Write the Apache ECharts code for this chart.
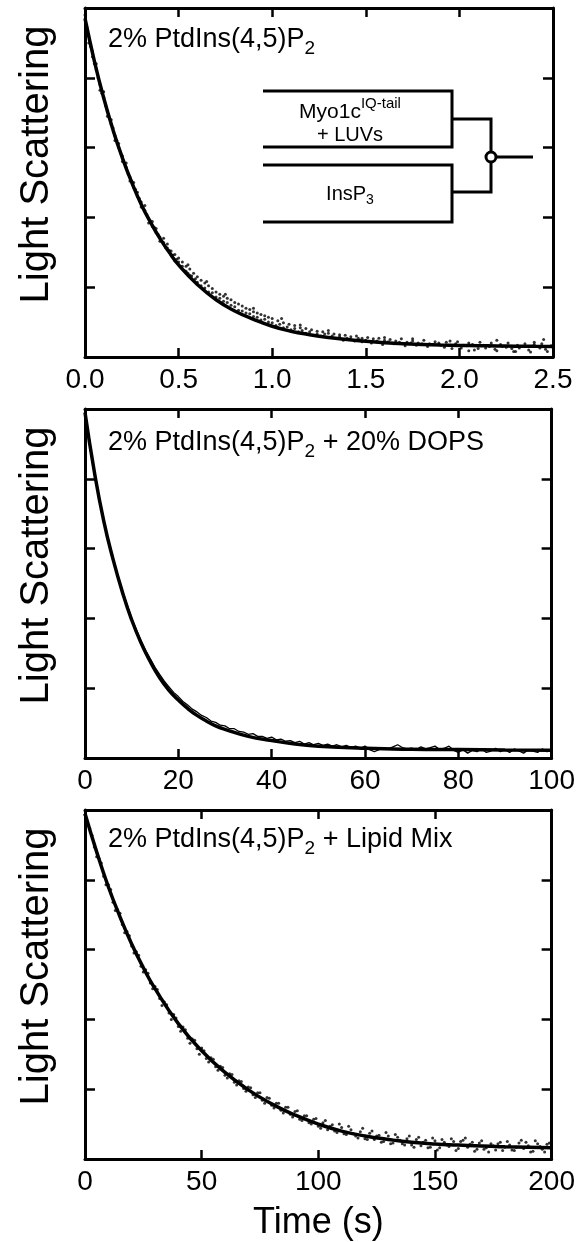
<!DOCTYPE html>
<html><head><meta charset="utf-8">
<script src="https://cdn.jsdelivr.net/npm/echarts@6/dist/echarts.min.js"></script>
<style>html,body{margin:0;padding:0;background:#fff}#c{width:578px;height:1242px}</style>
</head><body><div id="c"></div>
<script>
const FONT = '"Liberation Sans", Arial, Helvetica, sans-serif';

// ---------- axis setup ----------
const xMax = [2.5, 100, 200];
const xInterval = [0.5, 20, 50];
const xTickLabels1 = ['0.0', '0.5', '1.0', '1.5', '2.0', '2.5'];
const xTickLabels2 = ['0', '20', '40', '60', '80', '100'];
const xTickLabels3 = ['0', '50', '100', '150', '200'];
const yMax = 5;
const yInterval = 1;
const yTitle = 'Light Scattering';
const xTitle = 'Time (s)';

// ---------- panel 1: 2% PtdIns(4,5)P2 ----------
const p1FitT = [0,0.05,0.1,0.15,0.2,0.25,0.3,0.35,0.4,0.45,0.5,0.6,0.7,0.8,0.9,1.0,1.1,1.2,1.3,1.4,1.5,1.6,1.7,1.8,1.9,2.0,2.1,2.2,2.3,2.4,2.5];
const p1FitV = [4.85,4.24,3.71,3.25,2.85,2.50,2.19,1.93,1.70,1.50,1.32,1.04,0.82,0.66,0.54,0.44,0.37,0.32,0.28,0.25,0.225,0.205,0.19,0.18,0.172,0.166,0.162,0.158,0.155,0.153,0.152];
const p1Points = [
[0,4.9],[0.01,4.72],[0.02,4.6],[0.03,4.45],[0.04,4.38],[0.05,4.2],[0.06,4.12],[0.07,4.0],[0.08,3.9],[0.09,3.78],
[0.1,3.72],[0.11,3.6],[0.12,3.52],[0.13,3.43],[0.14,3.33],[0.15,3.28],[0.16,3.17],[0.17,3.1],[0.18,3.0],[0.19,2.93],
[0.2,2.88],[0.21,2.78],[0.22,2.72],[0.23,2.62],[0.24,2.58],[0.25,2.52],[0.26,2.43],[0.27,2.4],[0.28,2.3],[0.29,2.27],
[0.3,2.22],[0.31,2.13],[0.32,2.1],[0.33,2.04],[0.34,1.98],[0.35,1.95],[0.36,1.87],[0.37,1.86],[0.38,1.78],[0.39,1.76],
[0.4,1.72],[0.41,1.66],[0.42,1.64],[0.43,1.57],[0.44,1.56],[0.45,1.53],[0.46,1.46],[0.47,1.46],[0.48,1.38],[0.49,1.4],
[0.5,1.36],[0.51,1.3],[0.52,1.3],[0.53,1.24],[0.54,1.23],[0.55,1.2],[0.56,1.17],[0.57,1.16],[0.58,1.1],[0.59,1.12],
[0.6,1.07],[0.62,1.02],[0.64,0.99],[0.66,0.93],[0.68,0.92],[0.7,0.86],[0.72,0.84],[0.74,0.8],[0.76,0.78],[0.78,0.74],
[0.8,0.72],[0.82,0.67],[0.84,0.66],[0.86,0.63],[0.88,0.62],[0.9,0.58],[0.92,0.57],[0.94,0.53],[0.96,0.54],[0.98,0.5],
[1.0,0.49],[1.02,0.45],[1.04,0.47],[1.06,0.42],[1.08,0.43],[1.1,0.39],[1.12,0.41],[1.14,0.36],[1.16,0.38],[1.18,0.34],
[1.2,0.36],[1.22,0.31],[1.24,0.33],[1.26,0.3],[1.28,0.33],[1.3,0.28],[1.32,0.3],[1.34,0.27],[1.36,0.29],[1.38,0.24],
[1.4,0.27],[1.42,0.25],[1.44,0.23],[1.46,0.27],[1.48,0.22],[1.5,0.24],[1.53,0.2],[1.56,0.23],[1.59,0.18],[1.62,0.22],
[1.65,0.19],[1.68,0.21],[1.71,0.16],[1.74,0.2],[1.77,0.17],[1.8,0.19],[1.83,0.15],[1.86,0.18],[1.89,0.2],[1.92,0.14],
[1.95,0.17],[1.98,0.19],[2.01,0.13],[2.04,0.16],[2.07,0.18],[2.1,0.12],[2.13,0.17],[2.16,0.15],[2.19,0.11],[2.22,0.18],
[2.25,0.14],[2.28,0.12],[2.31,0.17],[2.34,0.15],[2.37,0.1],[2.4,0.18],[2.43,0.13],[2.46,0.11],[2.49,0.16],
[0.75,0.9],[0.9,0.7],[1.05,0.55],[1.3,0.38],[1.6,0.28],[2.2,0.24],[2.45,0.25],[0.55,1.32],[0.65,1.08],[1.15,0.46],
[1.75,0.26],[1.95,0.23],[2.3,0.08],[2.05,0.09],[2.4,0.21],
[0.02,4.5],[0.04,4.3],[0.06,4.2],[0.08,3.82],[0.1,3.8],[0.12,3.45],[0.14,3.4],[0.16,3.1],[0.18,3.06],[0.2,2.8],
[0.22,2.78],[0.24,2.52],[0.26,2.5],[0.28,2.36],[0.3,2.15],[0.32,2.17],[0.34,1.92],[0.36,1.94],[0.38,1.84],[0.4,1.66],
[0.42,1.7],[0.44,1.62],[0.46,1.52],[0.48,1.47],[0.5,1.42],[0.52,1.36],[0.54,1.3],[0.56,1.26],[0.58,1.2],[0.6,1.15],
[0.62,1.1],[0.64,1.06],[0.66,1.02],[0.68,0.98],[0.7,0.93],[0.72,0.9],[0.74,0.87],[0.76,0.84],[0.78,0.82],[0.8,0.78],
[0.82,0.76],[0.84,0.73],[0.86,0.7],[0.88,0.68],[0.9,0.65],[0.92,0.63],[0.94,0.61],[0.96,0.59],[0.98,0.57],[1.0,0.55],
[1.03,0.52],[1.06,0.49],[1.09,0.47],[1.12,0.45],[1.15,0.42],[1.18,0.41],[1.21,0.39],[1.24,0.37],[1.27,0.36],[1.3,0.34],
[1.33,0.33],[1.36,0.32],[1.39,0.31],[1.42,0.29],[1.45,0.3],[1.48,0.27],[1.51,0.28],[1.54,0.26],[1.57,0.27],[1.6,0.24],
[1.63,0.25],[1.66,0.23],[1.69,0.26],[1.72,0.21],[1.75,0.23],[1.78,0.2],[1.81,0.24],[1.84,0.19],[1.87,0.22],[1.9,0.17],
[1.93,0.21],[1.96,0.12],[1.99,0.22],[2.02,0.17],[2.05,0.2],[2.08,0.1],[2.11,0.21],[2.14,0.13],[2.17,0.2],[2.2,0.09],
[2.23,0.15],[2.26,0.2],[2.29,0.08],[2.32,0.13],[2.35,0.19],[2.38,0.07],[2.41,0.15],[2.44,0.19],[2.47,0.08],[2.5,0.14]
];

// ---------- panel 2: 2% PtdIns(4,5)P2 + 20% DOPS ----------
const p2FitT = [0,2,4,6,8,10,12,14,16,18,20,22,24,26,28,30,35,40,45,50,60,70,80,90,100];
const p2FitV = [4.95,4.1,3.4,2.85,2.38,1.98,1.65,1.38,1.15,0.97,0.83,0.71,0.61,0.53,0.46,0.41,0.31,0.25,0.2,0.17,0.14,0.125,0.12,0.115,0.11];
const p2DataT = [0,1,2,3,4,5,6,7,8,9,10,11,12,13,14,15,16,17,18,19,20,21,22,23,24,25,26,27,28,29,30,31,32,33,34,35,36,37,38,39,40,41,42,43,44,45,46,47,48,49,50,51,52,53,54,55,56,57,58,59,60,61,62,63,64,65,66,67,68,69,70,71,72,73,74,75,76,77,78,79,80,81,82,83,84,85,86,87,88,89,90,91,92,93,94,95,96,97,98,99,100];
const p2DataV = [4.93,4.55,4.1,3.76,3.42,3.13,2.87,2.62,2.4,2.2,2.0,1.84,1.68,1.54,1.42,1.3,1.2,1.1,1.02,0.94,
0.88,0.81,0.76,0.7,0.66,0.61,0.58,0.53,0.51,0.47,0.46,0.42,0.42,0.38,0.37,0.34,0.35,0.31,0.31,0.28,
0.3,0.26,0.27,0.24,0.25,0.22,0.24,0.2,0.22,0.19,0.21,0.18,0.2,0.17,0.19,0.16,0.18,0.15,0.17,0.14,
0.17,0.12,0.09,0.12,0.15,0.13,0.16,0.19,0.15,0.13,0.14,0.12,0.16,0.13,0.15,0.17,0.12,0.14,0.17,0.11,
0.08,0.12,0.07,0.11,0.09,0.13,0.08,0.1,0.14,0.09,0.12,0.08,0.13,0.1,0.07,0.12,0.1,0.08,0.13,0.09,0.11];

// ---------- panel 3: 2% PtdIns(4,5)P2 + Lipid Mix ----------
const p3FitT = [0,5,10,15,20,25,30,40,50,60,70,80,90,100,110,120,130,140,150,160,170,180,190,200];
const p3FitV = [4.95,4.4,3.9,3.47,3.08,2.74,2.44,1.94,1.55,1.24,0.99,0.79,0.63,0.5,0.4,0.33,0.28,0.24,0.215,0.2,0.185,0.175,0.168,0.162];
const p3Points = [
[0,4.93],[2,4.74],[4,4.47],[6,4.31],[8,4.05],[10,3.93],[12,3.68],[14,3.57],[16,3.36],[18,3.26],
[20,3.05],[22,2.97],[24,2.76],[26,2.71],[28,2.52],[30,2.47],[32,2.3],[34,2.25],[36,2.09],[38,2.07],
[40,1.9],[42,1.89],[44,1.73],[46,1.72],[48,1.58],[50,1.59],[52,1.44],[54,1.45],[56,1.32],[58,1.33],
[60,1.2],[62,1.22],[64,1.1],[66,1.12],[68,1.01],[70,1.03],[72,0.92],[74,0.95],[76,0.84],[78,0.88],
[80,0.77],[82,0.8],[84,0.7],[86,0.74],[88,0.64],[90,0.68],[92,0.57],[94,0.62],[96,0.52],[98,0.57],
[100,0.47],[102,0.52],[104,0.42],[106,0.49],[108,0.38],[110,0.45],[112,0.35],[114,0.42],[116,0.33],[118,0.39],
[120,0.29],[122,0.37],[124,0.28],[126,0.34],[128,0.25],[130,0.33],[132,0.23],[134,0.31],[136,0.22],[138,0.29],
[140,0.2],[142,0.28],[144,0.19],[146,0.27],[148,0.17],[150,0.26],[152,0.16],[154,0.24],[156,0.18],[158,0.25],
[160,0.15],[162,0.27],[164,0.17],[166,0.24],[168,0.14],[170,0.26],[172,0.16],[174,0.22],[176,0.13],[178,0.24],
[180,0.17],[182,0.2],[184,0.12],[186,0.23],[188,0.15],[190,0.19],[192,0.11],[194,0.22],[196,0.14],[198,0.21],[200,0.13],
[105,0.47],[115,0.36],[125,0.33],[135,0.27],[145,0.24],[155,0.2],[165,0.21],[175,0.19],[185,0.17],[195,0.18],
[157,0.29],[163,0.3],[171,0.14],[187,0.27],[193,0.26],[197,0.1],
[1,4.8],[3,4.64],[5,4.33],[7,4.24],[9,3.93],[11,3.86],[13,3.56],[15,3.52],[17,3.24],[19,3.2],
[21,2.95],[23,2.92],[25,2.68],[27,2.66],[29,2.44],[31,2.43],[33,2.2],[35,2.21],[37,2.0],[39,2.02],
[41,1.83],[43,1.85],[45,1.66],[47,1.7],[49,1.5],[51,1.55],[53,1.39],[55,1.43],[57,1.27],[59,1.31],
[61,1.16],[63,1.21],[65,1.06],[67,1.11],[69,0.97],[71,1.02],[73,0.88],[75,0.95],[77,0.8],[79,0.87],
[81,0.73],[83,0.8],[85,0.66],[87,0.74],[89,0.6],[91,0.69],[93,0.55],[95,0.62],[97,0.5],[99,0.58],
[101,0.44],[103,0.55],[107,0.4],[109,0.5],[111,0.36],[113,0.47],[117,0.3],[119,0.44],[121,0.28],[123,0.4],
[127,0.24],[129,0.38],[131,0.22],[133,0.35],[137,0.2],[139,0.33],[141,0.17],[143,0.31],[147,0.16],[149,0.3],
[151,0.13],[153,0.28],[159,0.12],[161,0.25],[167,0.11],[169,0.23],[173,0.1],[177,0.22],[179,0.12],[181,0.25],
[183,0.13],[189,0.24],[191,0.1],[199,0.23]
];

// ---------- annotation texts ----------
const panelTitles = [
  [{t:'2% PtdIns(4,5)P'},{t:'2',sub:true}],
  [{t:'2% PtdIns(4,5)P'},{t:'2',sub:true},{t:' + 20% DOPS'}],
  [{t:'2% PtdIns(4,5)P'},{t:'2',sub:true},{t:' + Lipid Mix'}]
];
const insetTop = [{t:'Myo1c'},{t:'IQ-tail',sup:true}];
const insetMid = [{t:'+ LUVs'}];
const insetBot = [{t:'InsP'},{t:'3',sub:true}];

// ---------- layout ----------
const G = [
  {left:85, top:8, width:468, height:349},
  {left:85, top:409, width:468, height:349},
  {left:85, top:810, width:468, height:349}
];
const tickLabelSets = [xTickLabels1, xTickLabels2, xTickLabels3];

const measureCtx = document.createElement('canvas').getContext('2d');
function textWidth(s, size){ measureCtx.font = size + 'px ' + FONT; return measureCtx.measureText(s).width; }
function richLine(segs, x, cy, size, align){
  const small = Math.round(size*0.7);
  const widths = segs.map(s => textWidth(s.t, (s.sub||s.sup)?small:size));
  const total = widths.reduce((a,b)=>a+b,0);
  let cx = align === 'center' ? x - total/2 : x;
  const els = [];
  segs.forEach((s,i)=>{
    const fs = (s.sub||s.sup)?small:size;
    const yy = s.sub ? cy + size*0.33 : (s.sup ? cy - size*0.38 : cy);
    els.push({type:'text', silent:true, style:{text:s.t, x:cx, y:yy, font: fs+'px '+FONT, fill:'#000', textAlign:'left', textVerticalAlign:'middle'}});
    cx += widths[i];
  });
  return els;
}

const xAxes = [], yAxes = [], series = [];
for (let i=0;i<3;i++){
  const labels = tickLabelSets[i];
  const common = {
    gridIndex:i, type:'value', min:0, max:xMax[i], interval:xInterval[i],
    axisLine:{show:true, onZero:false, lineStyle:{color:'#000', width:3}},
    axisTick:{show:true, inside:true, length:9, lineStyle:{color:'#000', width:2.5}},
    splitLine:{show:false}
  };
  xAxes.push(Object.assign({}, common, {
    position:'bottom',
    axisLabel:{show:true, color:'#000', fontSize:28, fontFamily:FONT, margin:9, showMinLabel:true, showMaxLabel:true,
      formatter:(v)=>labels[Math.round(v/xInterval[i])]},
    name: i===2 ? xTitle : '', nameLocation:'middle', nameGap:46,
    nameTextStyle:{color:'#000', fontSize:36, fontFamily:FONT}
  }));
  xAxes.push(Object.assign({}, common, {position:'top', axisLabel:{show:false}}));
  const ycommon = {
    gridIndex:i, type:'value', min:0, max:yMax, interval:yInterval,
    axisLine:{show:true, onZero:false, lineStyle:{color:'#000', width:3}},
    axisTick:{show:true, inside:true, length:10, lineStyle:{color:'#000', width:2.5}},
    axisLabel:{show:false}, splitLine:{show:false}
  };
  yAxes.push(Object.assign({}, ycommon, {position:'left', name:yTitle, nameLocation:'middle', nameGap:28, nameRotate:90,
    nameTextStyle:{color:'#000', fontSize:40, fontFamily:FONT, padding:[0,0,0,36]}}));
  yAxes.push(Object.assign({}, ycommon, {position:'right'}));
}

// panel 1
series.push({type:'scatter', xAxisIndex:0, yAxisIndex:0, data:p1Points, symbolSize:3, itemStyle:{color:'#000'}, silent:true, z:2});
series.push({type:'line', xAxisIndex:0, yAxisIndex:0, data:p1FitT.map((t,k)=>[t,p1FitV[k]]), smooth:true, showSymbol:false, lineStyle:{color:'#000', width:3.5}, silent:true, z:3});
// panel 2
series.push({type:'line', xAxisIndex:2, yAxisIndex:2, data:p2DataT.map((t,k)=>[t,p2DataV[k]]), showSymbol:false, lineStyle:{color:'#000', width:1.3}, silent:true, z:2});
series.push({type:'line', xAxisIndex:2, yAxisIndex:2, data:p2FitT.map((t,k)=>[t,p2FitV[k]]), smooth:true, showSymbol:false, lineStyle:{color:'#000', width:3.5}, silent:true, z:3});
// panel 3
series.push({type:'scatter', xAxisIndex:4, yAxisIndex:4, data:p3Points, symbolSize:3, itemStyle:{color:'#000'}, silent:true, z:2});
series.push({type:'line', xAxisIndex:4, yAxisIndex:4, data:p3FitT.map((t,k)=>[t,p3FitV[k]]), smooth:true, showSymbol:false, lineStyle:{color:'#000', width:3.5}, silent:true, z:3});

// graphics: titles + inset schematic
let graphics = [];
const titleCY = [40, 443, 840];
for (let i=0;i<3;i++) graphics = graphics.concat(richLine(panelTitles[i], 108, titleCY[i], 27, 'left'));
const LS = {stroke:'#000', lineWidth:3, fill:null};
graphics.push({type:'polyline', silent:true, shape:{points:[[263,91],[452,91],[452,147],[263,147]]}, style:LS});
graphics.push({type:'polyline', silent:true, shape:{points:[[263,165],[452,165],[452,222],[263,222]]}, style:LS});
graphics.push({type:'polyline', silent:true, shape:{points:[[452,119],[491,119],[491,192],[452,192]]}, style:LS});
graphics.push({type:'line', silent:true, shape:{x1:491,y1:157,x2:533,y2:157}, style:LS});
graphics.push({type:'circle', silent:true, shape:{cx:491, cy:157, r:5}, style:{stroke:'#000', lineWidth:3, fill:'#fff'}, z:10});
graphics = graphics.concat(richLine(insetTop, 350, 112, 21, 'center'));
graphics = graphics.concat(richLine(insetMid, 350, 135, 20, 'center'));
graphics = graphics.concat(richLine(insetBot, 350, 194, 20, 'center'));

const chart = echarts.init(document.getElementById('c'), null, {renderer:'canvas'});
chart.setOption({
  animation:false,
  backgroundColor:'#fff',
  grid:G,
  xAxis:xAxes,
  yAxis:yAxes,
  series:series,
  graphic:graphics
});
</script></body></html>
